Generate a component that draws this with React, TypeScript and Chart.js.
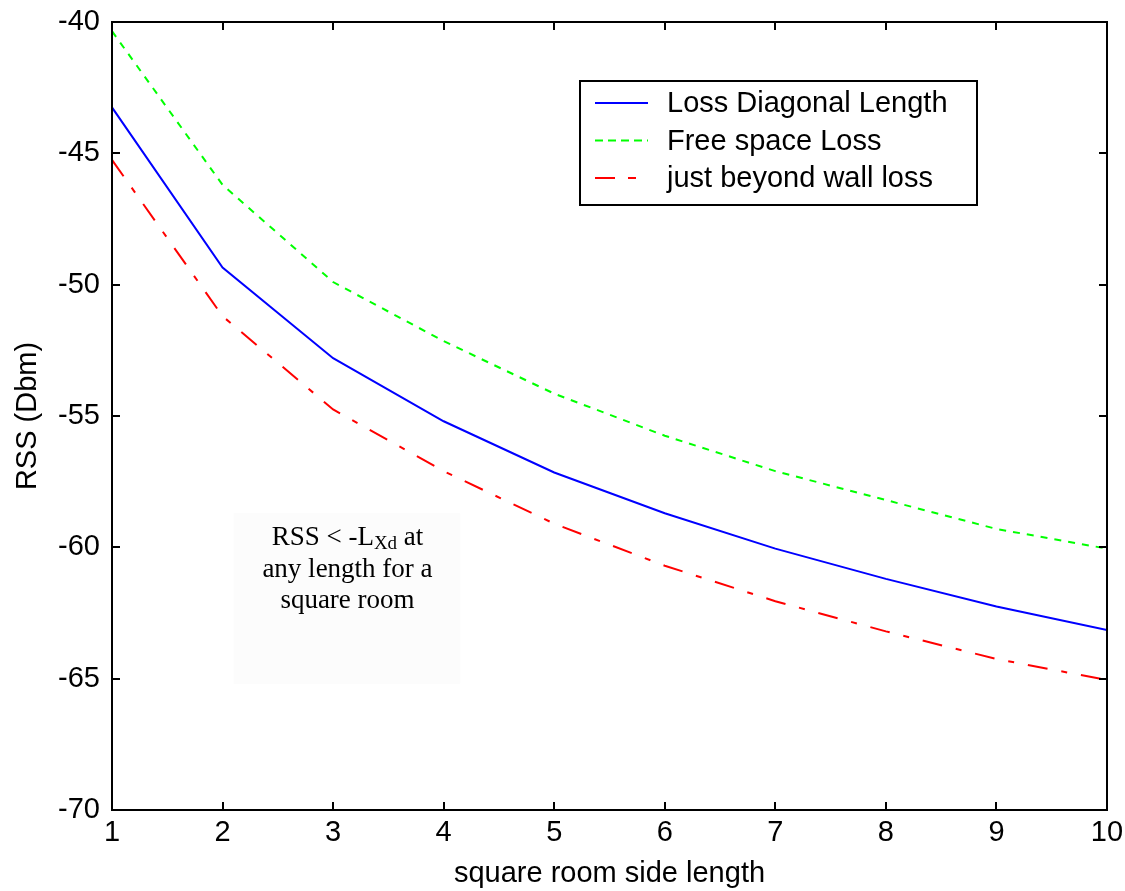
import React, { useEffect, useRef } from "react";
import { Chart, registerables } from "chart.js";

Chart.register(...registerables);

const sideLengths = [1, 2, 3, 4, 5, 6, 7, 8, 9, 10];
const lossDiagonal = [-43.25, -49.35, -52.8, -55.2, -57.15, -58.7, -60.05, -61.2, -62.25, -63.15];
const freeSpace = [-40.35, -46.2, -49.9, -52.15, -54.15, -55.75, -57.1, -58.2, -59.3, -60.05];
const beyondWall = [-45.25, -51.2, -54.75, -57.1, -59.1, -60.7, -62.05, -63.2, -64.25, -65.05];

const xTicks = [1, 2, 3, 4, 5, 6, 7, 8, 9, 10];
const yTicks = [-70, -65, -60, -55, -50, -45, -40];

const seriesLabels = ["Loss Diagonal Length", "Free space Loss", "just beyond wall loss"];
const annotationLines = ["RSS < -L", "any length for a", "square room"];

const SANS = "'Liberation Sans', Arial, sans-serif";
const SERIF = "'Liberation Serif', 'Times New Roman', serif";
const FS = 29;

const framePlugin = {
  id: "frame",
  afterDatasetsDraw(chart: any) {
    const { ctx, chartArea, scales } = chart;
    const { left, right, top, bottom } = chartArea;
    const x = scales.x;
    const y = scales.y;
    ctx.save();
    ctx.strokeStyle = "#000";
    ctx.lineWidth = 2;
    ctx.strokeRect(left, top, right - left, bottom - top);
    const tl = 8;
    ctx.beginPath();
    xTicks.forEach((v) => {
      const px = Math.round(x.getPixelForValue(v));
      ctx.moveTo(px, bottom);
      ctx.lineTo(px, bottom - tl);
      ctx.moveTo(px, top);
      ctx.lineTo(px, top + tl);
    });
    yTicks.forEach((v) => {
      const py = Math.round(y.getPixelForValue(v));
      ctx.moveTo(left, py);
      ctx.lineTo(left + tl, py);
      ctx.moveTo(right, py);
      ctx.lineTo(right - tl, py);
    });
    ctx.stroke();
    ctx.restore();
  },
  afterDraw(chart: any) {
    const { ctx, chartArea, scales } = chart;
    const x = scales.x;
    const y = scales.y;
    // annotation
    ctx.save();
    const bx0 = x.getPixelForValue(2.1);
    const bx1 = x.getPixelForValue(4.15);
    const by0 = y.getPixelForValue(-58.7);
    const by1 = y.getPixelForValue(-65.2);
    ctx.fillStyle = "#fcfcfc";
    ctx.fillRect(bx0, by0, bx1 - bx0, by1 - by0);
    const cx = x.getPixelForValue(3.13);
    const cy = y.getPixelForValue(-59.65);
    const lh = 31.5;
    ctx.fillStyle = "#000";
    ctx.textBaseline = "middle";
    const mainFont = `27px ${SERIF}`;
    const subFont = `19px ${SERIF}`;
    ctx.font = mainFont;
    const w1 = ctx.measureText(annotationLines[0]).width;
    const w3 = ctx.measureText(" at").width;
    ctx.font = subFont;
    const w2 = ctx.measureText("Xd").width;
    const total = w1 + w2 + w3;
    let sx = cx - total / 2;
    ctx.textAlign = "left";
    ctx.font = mainFont;
    ctx.fillText(annotationLines[0], sx, cy);
    sx += w1;
    ctx.font = subFont;
    ctx.fillText("Xd", sx, cy + 6);
    sx += w2;
    ctx.font = mainFont;
    ctx.fillText(" at", sx, cy);
    ctx.textAlign = "center";
    ctx.fillText(annotationLines[1], cx, cy + lh);
    ctx.fillText(annotationLines[2], cx, cy + 2 * lh);
    ctx.restore();

    // legend
    ctx.save();
    const lx = chartArea.left + 468;
    const ly = chartArea.top + 59;
    const lw = 397;
    const lhh = 124;
    ctx.fillStyle = "#fff";
    ctx.fillRect(lx, ly, lw, lhh);
    ctx.strokeStyle = "#000";
    ctx.lineWidth = 2;
    ctx.strokeRect(lx, ly, lw, lhh);
    ctx.font = `${FS}px ${SANS}`;
    ctx.textBaseline = "middle";
    ctx.textAlign = "left";
    chart.data.datasets.forEach((ds: any, i: number) => {
      const yy = ly + 22 + i * 37.5;
      ctx.save();
      ctx.strokeStyle = ds.borderColor;
      ctx.lineWidth = 2;
      ctx.setLineDash(ds.legendDash || []);
      ctx.beginPath();
      ctx.moveTo(lx + 15, yy);
      ctx.lineTo(lx + 68, yy);
      ctx.stroke();
      ctx.restore();
      ctx.fillStyle = "#000";
      ctx.fillText(ds.label, lx + 87, yy + 1);
    });
    ctx.restore();
  },
};

export default function App() {
  const ref = useRef<HTMLCanvasElement | null>(null);
  useEffect(() => {
    if (!ref.current) return;
    const toPts = (arr: number[]) => sideLengths.map((v, i) => ({ x: v, y: arr[i] }));
    const chart = new Chart(ref.current, {
      type: "line",
      data: {
        datasets: [
          {
            label: seriesLabels[0],
            data: toPts(lossDiagonal),
            borderColor: "#0000ff",
            borderWidth: 2,
            pointRadius: 0,
            tension: 0,
            legendDash: [],
          } as any,
          {
            label: seriesLabels[1],
            data: toPts(freeSpace),
            borderColor: "#00ff00",
            borderWidth: 2,
            borderDash: [7, 7],
            pointRadius: 0,
            tension: 0,
            legendDash: [8, 5],
          } as any,
          {
            label: seriesLabels[2],
            data: toPts(beyondWall),
            borderColor: "#ff0000",
            borderWidth: 2,
            borderDash: [20, 14, 6, 14],
            pointRadius: 0,
            tension: 0,
            legendDash: [20, 13, 8, 13],
          } as any,
        ],
      },
      options: {
        responsive: false,
        animation: false,
        devicePixelRatio: 1,
        layout: { padding: { left: 0, right: 18, top: 22, bottom: 0 } },
        plugins: {
          legend: { display: false },
          tooltip: { enabled: false },
        },
        scales: {
          x: {
            type: "linear",
            min: 1,
            max: 10,
            grid: { display: false, drawTicks: false },
            border: { display: false },
            afterFit: (s: any) => {
              s.height = 81;
              s.paddingLeft = 0;
              s.paddingRight = 0;
            },
            afterBuildTicks: (s: any) => {
              s.ticks = xTicks.map((v) => ({ value: v }));
            },
            ticks: {
              color: "#000",
              font: { family: SANS, size: FS },
              padding: 6,
              maxRotation: 0,
              autoSkip: false,
            },
            title: {
              display: true,
              text: "square room side length",
              color: "#000",
              font: { family: SANS, size: FS },
              padding: { top: 0, bottom: 0 },
            },
          },
          y: {
            type: "linear",
            min: -70,
            max: -40,
            grid: { display: false, drawTicks: false },
            border: { display: false },
            afterFit: (s: any) => {
              s.width = 112;
              s.paddingTop = 0;
              s.paddingBottom = 0;
            },
            afterBuildTicks: (s: any) => {
              s.ticks = yTicks.map((v) => ({ value: v }));
            },
            ticks: {
              color: "#000",
              font: { family: SANS, size: FS },
              padding: 12,
              autoSkip: false,
            },
            title: {
              display: true,
              text: "RSS (Dbm)",
              color: "#000",
              font: { family: SANS, size: FS },
              padding: { top: 11, bottom: 0 },
            },
          },
        },
      } as any,
      plugins: [framePlugin],
    });
    return () => chart.destroy();
  }, []);
  return (
    <div style={{ position: "absolute", left: 0, top: 0, width: 1125, height: 891, background: "#fff" }}>
      <canvas ref={ref} width={1125} height={891} />
    </div>
  );
}
